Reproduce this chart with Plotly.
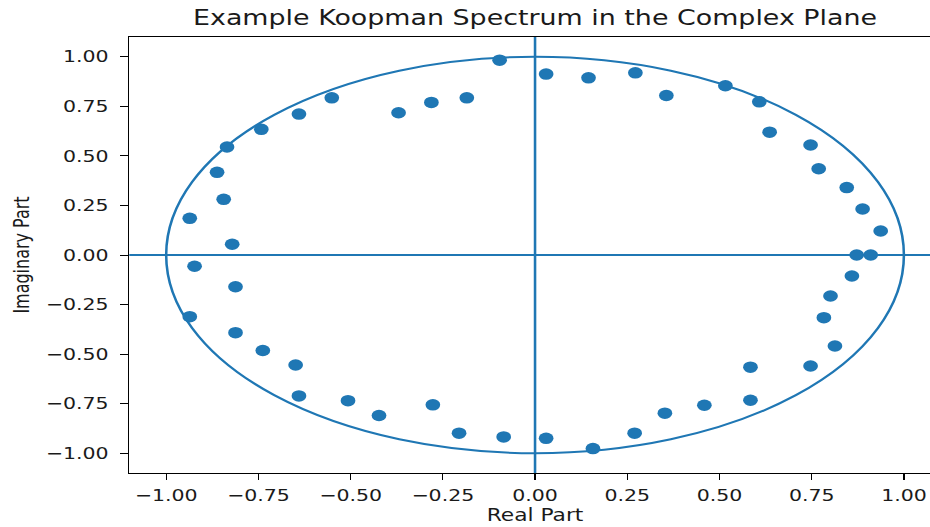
import plotly.graph_objects as go

# Koopman eigenvalues (real and imaginary parts)
EIG_REAL = [
    -0.936, -0.844, -0.862, -0.835, -0.742, -0.640, -0.551, -0.370, -0.281, -0.185,
    -0.821, -0.923,
    -0.096, 0.030, 0.145, 0.272, 0.356, 0.516, 0.608, 0.636, 0.747, 0.769,
    0.845, 0.888, 0.937, 0.872, 0.910,
    -0.812, -0.936, -0.812, -0.738, -0.649, -0.640, -0.507, -0.423, -0.277, -0.206,
    -0.085, 0.030, 0.157, 0.270, 0.352, 0.459, 0.584, 0.584, 0.747, 0.813,
    0.783, 0.801, 0.859,
]
EIG_IMAG = [
    0.185, 0.281, 0.417, 0.545, 0.634, 0.711, 0.793, 0.718, 0.770, 0.793,
    0.054, -0.057,
    0.983, 0.913, 0.894, 0.919, 0.805, 0.854, 0.773, 0.620, 0.555, 0.435,
    0.340, 0.232, 0.121, 0.000, 0.000,
    -0.160, -0.311, -0.392, -0.482, -0.555, -0.711, -0.735, -0.810, -0.756, -0.899,
    -0.918, -0.925, -0.977, -0.899, -0.798, -0.758, -0.733, -0.566, -0.560, -0.459,
    -0.316, -0.207, -0.106,
]

# Unit circle radius and tick positions/labels
UNIT_RADIUS = 1.0
TICK_VALUES = [-1.0, -0.75, -0.5, -0.25, 0.0, 0.25, 0.5, 0.75, 1.0]
TICK_LABELS = [("\u2212" if v < 0 else "") + f"{abs(v):.2f}" for v in TICK_VALUES]
AXIS_RANGE = [-1.1, 1.1]

BLUE = "#1f77b4"
FONT = "DejaVu Sans"
TEXT = "#1a1a1a"
STRETCH = 1.28

fig = go.Figure()

fig.add_trace(go.Scatter(
    x=EIG_REAL, y=EIG_IMAG, mode="markers",
    marker=dict(color=BLUE, size=11.5, line=dict(width=0)),
    showlegend=False, hoverinfo="x+y",
))

# unit circle
fig.add_shape(type="circle", xref="x", yref="y",
              x0=-UNIT_RADIUS, x1=UNIT_RADIUS, y0=-UNIT_RADIUS, y1=UNIT_RADIUS,
              line=dict(color=BLUE, width=2), layer="below")
# real and imaginary axes through the origin
fig.add_shape(type="line", xref="paper", yref="y", x0=0, x1=1, y0=0, y1=0,
              line=dict(color=BLUE, width=2), layer="below")
fig.add_shape(type="line", xref="x", yref="paper", x0=0, x1=0, y0=0, y1=1,
              line=dict(color=BLUE, width=2), layer="below")

axis_common = dict(
    range=AXIS_RANGE, tickmode="array", tickvals=TICK_VALUES, ticktext=TICK_LABELS,
    showgrid=False, zeroline=False, showline=True, mirror=True,
    linecolor="black", linewidth=1, ticks="outside", ticklen=6, tickwidth=1,
    tickcolor="black", tickfont=dict(family=FONT, size=16, color=TEXT),
    automargin=False, fixedrange=True,
)

fig.update_layout(
    width=760, height=527, autosize=False,
    margin=dict(l=101, r=25, t=37, b=54),
    paper_bgcolor="white", plot_bgcolor="white",
    title=dict(text="Example Koopman Spectrum in the Complex Plane",
               font=dict(family=FONT, size=21, color=TEXT),
               x=0.5, xref="paper", y=1 - 18 / 527, yref="container",
               xanchor="center", yanchor="middle"),
    xaxis=dict(**axis_common, ticklabelstandoff=2,
               title=dict(text="Real Part", font=dict(family=FONT, size=17, color=TEXT),
                          standoff=3)),
    yaxis=dict(**axis_common, ticklabelstandoff=6,
               title=dict(text="Imaginary Part", font=dict(family=FONT, size=16, color=TEXT),
                          standoff=8)),
)

post = """
document.documentElement.style.overflow = 'hidden';
document.body.style.margin = '0';
document.body.style.overflow = 'hidden';
var gd = document.getElementById('{plot_id}');
gd.style.transformOrigin = '0 0';
gd.style.transform = 'scaleX(%s)';
""" % STRETCH

fig.write_html("out.html", config={"displayModeBar": False}, post_script=post)
